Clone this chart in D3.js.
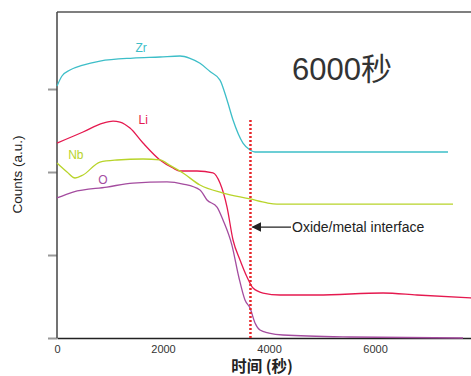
<!DOCTYPE html>
<html>
<head>
<meta charset="utf-8">
<script src="https://cdn.jsdelivr.net/npm/d3@7"></script>
<style>
  body { margin: 0; background: #fff; }
  svg { display: block; font-family: "Liberation Sans", Arial, sans-serif; }
</style>
</head>
<body>
<div id="chart"></div>
<script>
// time (s), counts (a.u.)
const zr = [[0,3.036],[94,3.157],[245,3.229],[491,3.289],[811,3.337],[1434,3.373],[1943,3.386],[2321,3.398],
  [2509,3.37],[2698,3.31],[2887,3.21],[3075,3.108],[3208,2.867],[3321,2.627],[3509,2.349],[3642,2.265],
  [3736,2.241],[3830,2.241],[4585,2.241],[7377,2.241]];
const li = [[0,2.349],[491,2.482],[868,2.590],[1057,2.614],[1189,2.602],[1377,2.530],[1623,2.349],[1943,2.145],
  [2189,2.048],[2321,2.012],[2642,2.012],[2943,1.99],[3075,1.867],[3208,1.578],[3321,1.181],[3453,0.940],
  [3585,0.735],[3698,0.602],[3887,0.542],[4208,0.518],[4906,0.518],[6151,0.542],[6792,0.518],[7811,0.482]];
const nb = [[0,2.108],[189,2.0],[340,1.928],[491,1.964],[811,2.120],[1132,2.145],[1623,2.157],[1943,2.145],
  [2132,2.08],[2377,1.988],[2698,1.843],[3132,1.747],[3642,1.675],[3962,1.627],[4150,1.614],[7472,1.614]];
const ox = [[0,1.687],[302,1.759],[943,1.819],[1434,1.867],[2075,1.880],[2377,1.855],[2698,1.783],[2830,1.663],
  [3019,1.578],[3132,1.422],[3300,1.12],[3430,0.735],[3547,0.458],[3642,0.361],[3736,0.181],[3830,0.096],
  [4000,0.06],[4264,0.036],[5528,0.012],[7660,0.0]];

const xTicks = [0, 2000, 4000, 6000];
const yTicks = [0, 1, 2, 3];
const interfaceTime = 3650;

const width = 471, height = 376;
const margin = {top: 12, left: 57, bottom: 38, right: 0};

const svg = d3.select("#chart").append("svg")
  .attr("width", width).attr("height", height);

const x = d3.scaleLinear().domain([0, 7811]).range([margin.left, width - margin.right]);
const y = d3.scaleLinear().domain([0, 3.928]).range([height - margin.bottom, margin.top]);

// frame top
svg.append("line")
  .attr("x1", margin.left).attr("x2", width)
  .attr("y1", margin.top).attr("y2", margin.top)
  .attr("stroke", "#555").attr("stroke-width", 1.5);

// y axis with ticks, no labels
const yAxis = svg.append("g")
  .attr("transform", `translate(${margin.left},0)`)
  .call(d3.axisLeft(y).tickValues(yTicks).tickSize(9).tickFormat(""));
yAxis.select(".domain").remove();
yAxis.selectAll(".tick line").attr("stroke", "#999").attr("stroke-width", 2);
svg.append("line")
  .attr("x1", margin.left).attr("x2", margin.left)
  .attr("y1", margin.top).attr("y2", y(0))
  .attr("stroke", "#444").attr("stroke-width", 1.5);

// x axis
const xAxis = svg.append("g")
  .attr("transform", `translate(0,${y(0)})`)
  .call(d3.axisBottom(x).tickValues(xTicks).tickSize(0).tickPadding(7).tickFormat(d3.format("d")));
xAxis.select(".domain").attr("stroke", "#222").attr("stroke-width", 1.5);
xAxis.selectAll(".tick text").attr("font-size", 11).attr("fill", "#333")
  .attr("font-family", "Liberation Sans, Arial, sans-serif");

const line = d3.line().x(d => x(d[0])).y(d => y(d[1])).curve(d3.curveMonotoneX);

const series = [
  {data: zr, color: "#3dbec8", name: "Zr", lx: 1480, ly: 3.45},
  {data: li, color: "#e5194f", name: "Li", lx: 1540, ly: 2.58},
  {data: nb, color: "#b8d42a", name: "Nb", lx: 210, ly: 2.16},
  {data: ox, color: "#a44c9f", name: "O", lx: 780, ly: 1.85}
];

series.forEach(s => {
  svg.append("path")
    .attr("d", line(s.data))
    .attr("fill", "none")
    .attr("stroke", s.color)
    .attr("stroke-width", 1.3);
  svg.append("text")
    .attr("x", x(s.lx)).attr("y", y(s.ly))
    .attr("fill", s.color)
    .attr("font-size", 12)
    .text(s.name);
});

// interface marker
svg.append("line")
  .attr("x1", x(interfaceTime)).attr("x2", x(interfaceTime))
  .attr("y1", y(2.627)).attr("y2", y(0))
  .attr("stroke", "#e8262a").attr("stroke-width", 2.5)
  .attr("stroke-dasharray", "2,2");

svg.append("defs").append("marker")
  .attr("id", "arrow").attr("viewBox", "0 0 10 10")
  .attr("refX", 9).attr("refY", 5)
  .attr("markerWidth", 8).attr("markerHeight", 8)
  .attr("orient", "auto")
  .append("path").attr("d", "M0,0 L10,5 L0,10 z").attr("fill", "#222");

svg.append("line")
  .attr("x1", 291).attr("x2", x(interfaceTime) + 2)
  .attr("y1", y(1.337)).attr("y2", y(1.337))
  .attr("stroke", "#222").attr("stroke-width", 1.2)
  .attr("marker-end", "url(#arrow)");

svg.append("text")
  .attr("x", 292).attr("y", y(1.337) + 5)
  .attr("font-size", 14).attr("fill", "#222")
  .text("Oxide/metal interface");

// title
svg.append("text")
  .attr("x", 292).attr("y", 80)
  .attr("font-size", 31).attr("fill", "#333")
  .attr("font-family", "Liberation Sans, 'Noto Sans CJK SC', sans-serif")
  .text("6000秒");

// axis titles
svg.append("text")
  .attr("x", 262).attr("y", 372)
  .attr("text-anchor", "middle")
  .attr("font-size", 15.5).attr("font-weight", "bold").attr("fill", "#222")
  .attr("font-family", "'Noto Sans CJK SC', sans-serif")
  .text("时间 (秒)");

svg.append("text")
  .attr("transform", `translate(22,${y(1.97)}) rotate(-90)`)
  .attr("text-anchor", "middle")
  .attr("font-size", 13.5).attr("fill", "#222")
  .text("Counts (a.u.)");
</script>
</body>
</html>
